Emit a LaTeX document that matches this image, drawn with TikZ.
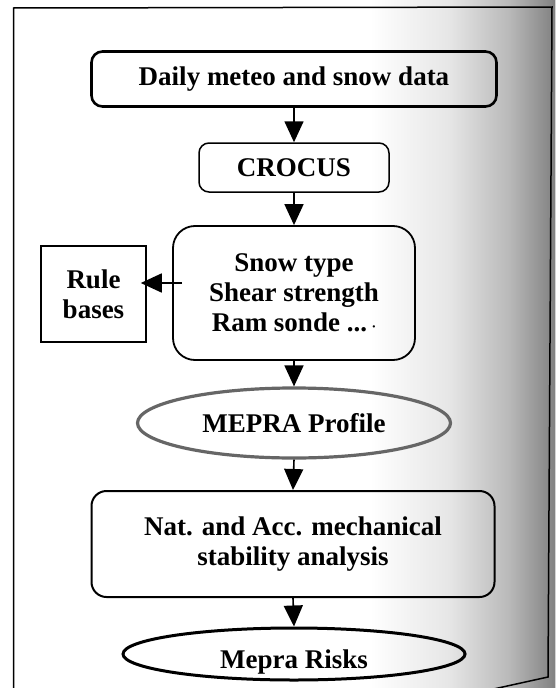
\documentclass[tikz,border=0pt]{standalone}
\usepackage{fontspec}
\setmainfont{Liberation Serif}
\usetikzlibrary{shapes.geometric, arrows.meta}
\begin{document}
\begin{tikzpicture}[x=1pt,y=-1pt,
  txt/.style={font=\bfseries\fontsize{27}{30}\selectfont, align=center, inner sep=0pt},
  rbox/.style={txt, draw, rounded corners=#1},
  rbox/.default=12pt,
  arr/.style={draw, line width=1.6pt, -{Triangle[length=21pt,width=19pt]}}]
\useasboundingbox (0,0) rectangle (555,688);
\clip (0,0) rectangle (555,688);
% scan shading on the right
\fill[left color=white, right color=black!10] (370,-1) rectangle (451,689);
\fill[left color=black!10, right color=black!28] (450,-1) rectangle (511,689);
\fill[left color=black!28, right color=black!50] (510,-1) rectangle (556,689);
% frame
\draw[line width=1.5pt] (13.5,700) -- (13.5,8) -- (552,7) -- (548,677) -- (480,692);
% nodes
\node[rbox=11pt, line width=2.6pt, minimum width=405pt, minimum height=55pt] (daily) at (294,79) {Daily meteo and snow data};
\node[rbox=10pt, line width=1.5pt, minimum width=190pt, minimum height=49pt] (crocus) at (294,167.5) {CROCUS};
\node[rbox=22pt, line width=1.8pt, minimum width=242pt, minimum height=134pt] (snow) at (294,293) {Snow type\\Shear strength\\Ram sonde ...\,{\fontsize{14}{14}\selectfont ·}};
\node[txt, draw, line width=1.5pt, minimum width=105pt, minimum height=96pt] (rule) at (93.5,294) {Rule\\bases};
\node[txt, ellipse, draw=black!60, line width=3.2pt, minimum width=313pt, minimum height=70pt] (mepra) at (294,423) {MEPRA Profile};
\node[rbox=15pt, line width=2pt, minimum width=403pt, minimum height=106pt] (nat) at (293,544) {Nat. and Acc. mechanical\\stability analysis};
\node[ellipse, draw, line width=3pt, minimum width=342pt, minimum height=52pt, inner sep=0pt] (risks) at (294,654) {};
\node[txt] (riskstxt) at (294,662) {Mepra Risks};
% connectors
\draw[arr] (daily.south) -- (crocus.north);
\draw[arr] (crocus.south) -- (snow.north);
\draw[arr] ([shift={(10,-10)}]snow.west) -- ([shift={(-6,-11)}]rule.east);
\draw[arr] (snow.south) -- (mepra.north);
\draw[arr] (mepra.south) -- (nat.north);
\draw[arr] (nat.south) -- (risks.north);
\end{tikzpicture}
\end{document}
